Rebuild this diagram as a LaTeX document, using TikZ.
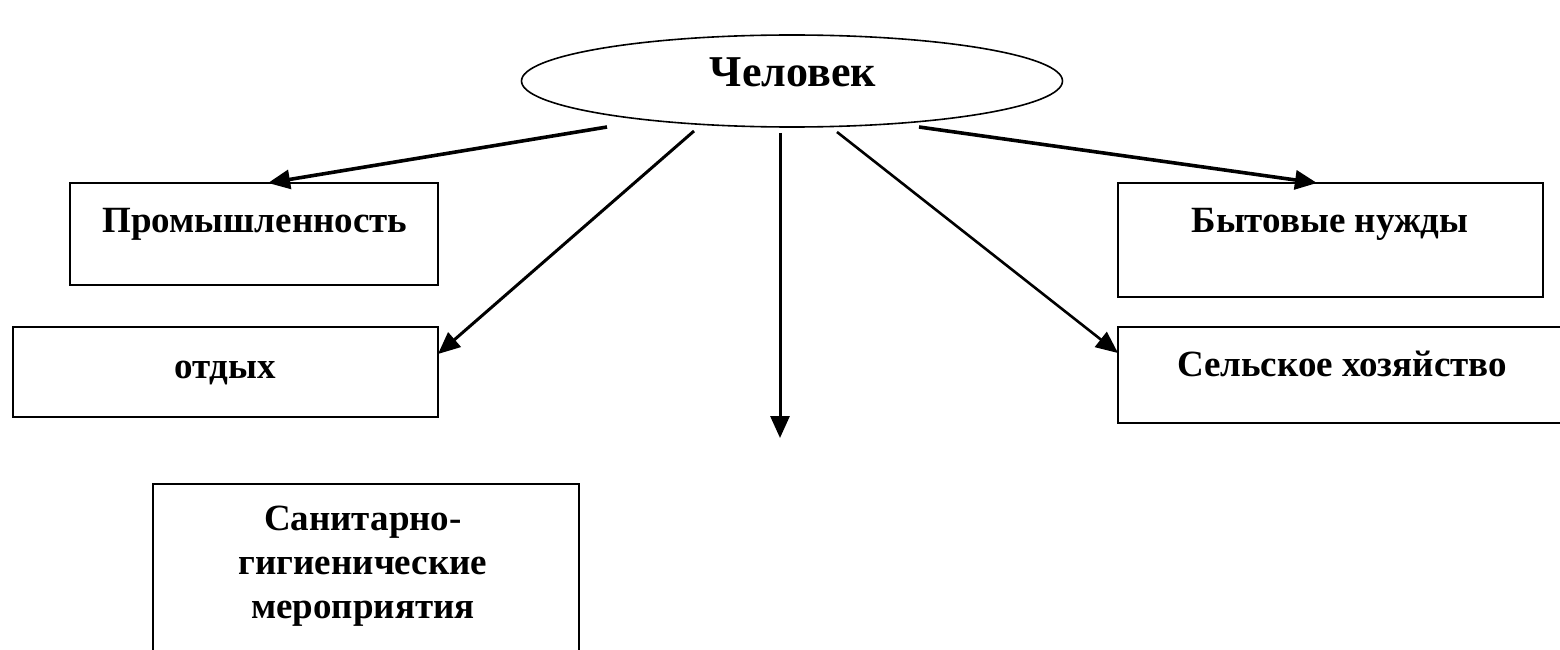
\documentclass[tikz,border=0pt]{standalone}
\usepackage{fontspec}
\setmainfont{Liberation Serif}
\usetikzlibrary{arrows.meta,calc,shapes.geometric}
\begin{document}
\begin{tikzpicture}[x=1pt,y=-1pt,
  box/.style={draw,line width=2pt,inner sep=0pt,outer sep=0pt,anchor=north west},
  lbl/.style={font=\bfseries\fontsize{37}{44}\selectfont,inner sep=0pt,anchor=base},
  arr/.style={line width=3pt,-{Triangle[length=22pt,width=19pt]}}]
\fill[white] (0,0) rectangle (1560,650);
\useasboundingbox (0,0) rectangle (1560,650);
% central ellipse
\node[draw,line width=1.6pt,ellipse,inner sep=0pt,outer sep=0pt,minimum width=541pt,minimum height=92pt] (ell) at (792,81) {};
\node[lbl,font=\bfseries\fontsize{44}{50}\selectfont] (tell) at (793,87) {Человек};
% boxes
\node[box,minimum width=368pt,minimum height=102pt] (prom) at (70,183) {};
\node[box,minimum width=425pt,minimum height=90pt] (otd) at (13,327) {};
\node[box,minimum width=425pt,minimum height=114pt] (byt) at (1118,183) {};
\node[box,minimum width=448pt,minimum height=96pt] (sel) at (1118,327) {};
\node[box,minimum width=426pt,minimum height=220pt] (san) at (153,484) {};
% texts
\node[lbl] (tprom) at (255,232) {Промышленность};
\node[lbl] (totd) at (225,378) {отдых};
\node[lbl] (tbyt) at (1330,232) {Бытовые нужды};
\node[lbl] (tsel) at (1342,376) {Сельское хозяйство};
\node[lbl,anchor=north,align=center] (tsan) at (363,506) {Санитарно-\\гигиенические\\мероприятия};
% connector ends
\coordinate (s1) at ($(ell.center)+(-185,46)$);
\coordinate (s2) at ($(ell.center)+(-98,50)$);
\coordinate (s3) at ($(ell.center)+(-12,52)$);
\coordinate (s4) at ($(ell.center)+(45,51)$);
\coordinate (s5) at ($(ell.center)+(127,46)$);
\coordinate (e3) at (780,438);
% connectors
\draw[arr,line width=3.6pt] (s1) -- ($(prom.north west)+(198,0)$);
\draw[arr] (s2) -- ($(otd.north east)+(0,27)$);
\draw[arr] (s3) -- (e3);
\draw[arr,line width=2.6pt] (s4) -- ($(sel.north west)+(0,26)$);
\draw[arr,line width=3.6pt] (s5) -- ($(byt.north west)+(199,0)$);
\end{tikzpicture}
\end{document}
